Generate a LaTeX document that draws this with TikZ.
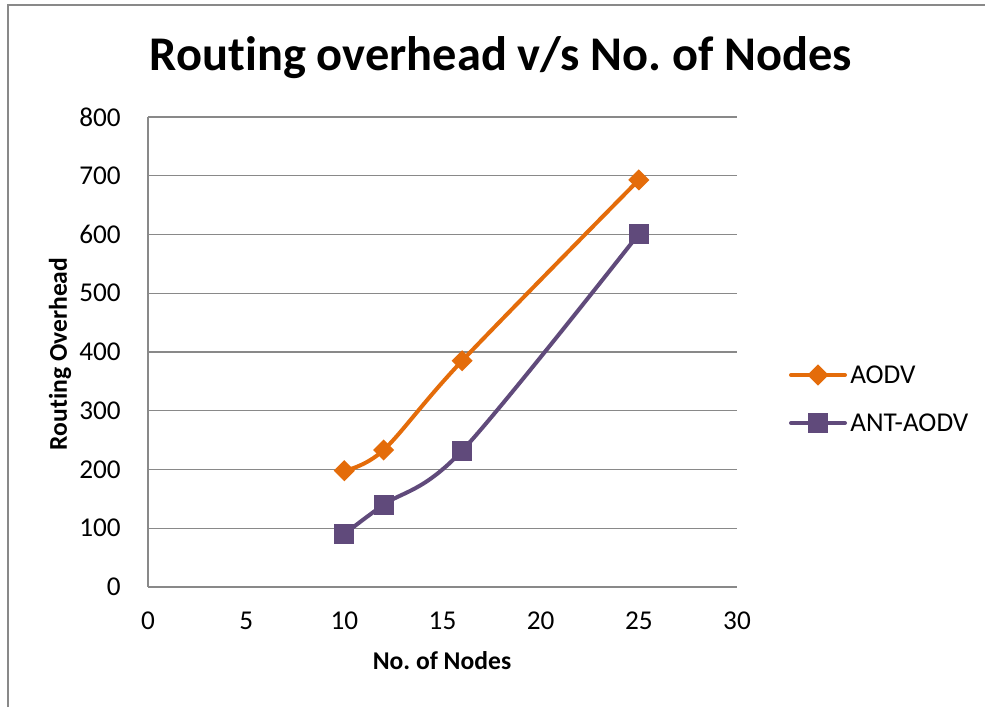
\documentclass[tikz,border=0pt]{standalone}
\usepackage{fontspec}
\usetikzlibrary{shapes.geometric}
\setmainfont[Ligatures=NoCommon]{Carlito}
\frenchspacing
\definecolor{aodv}{HTML}{E46C0A}
\definecolor{antaodv}{HTML}{604A7B}
\definecolor{gridgray}{HTML}{898989}
\begin{document}
\begin{tikzpicture}[x=0.75pt,y=0.75pt,
  gridline/.style={draw=gridgray,line width=1.1pt},
  ticklab/.style={font=\fontsize{20.4}{24}\selectfont,inner sep=0pt},
  axtitle/.style={font=\fontsize{19.2}{22}\selectfont\bfseries,inner sep=0pt},
  aodvline/.style={draw=aodv,line width=3pt,line cap=round,line join=round},
  antline/.style={draw=antaodv,line width=3pt,line cap=round,line join=round},
  dmark/.style={fill=aodv,draw=none,diamond,minimum size=16pt,inner sep=0pt},
  smark/.style={fill=antaodv,draw=none,rectangle,minimum size=15pt,inner sep=0pt}]
% canvas: pixel coordinates, origin bottom-left
\useasboundingbox (0,0) rectangle (985,707);
\fill[white] (0,0) rectangle (985,707);
% outer frame (left and top edges)
\draw[draw=gridgray,line width=1.5pt] (8,0) -- (8,702) -- (985,702);
% title
\node[font=\fontsize{36.3}{44}\selectfont\bfseries,inner sep=0pt] (title) at (501,649) {Routing overhead v/s No. of Nodes};
% plot area: x 0..30 -> 148..737, y 0..800 -> 120..590
\foreach \v in {0,100,...,800}{
  \draw[gridline] (148,{120+\v*0.5875}) -- (737,{120+\v*0.5875});
  \node[ticklab,anchor=east] (yl\v) at (121,{120+\v*0.5875}) {\v};
}
\draw[gridline] (148,120) -- (148,590);
\foreach \v in {0,5,...,30}{
  \node[ticklab] (xl\v) at ({148+\v*19.633},86) {\v};
}
\node[axtitle] (xtitle) at (442,46) {No. of Nodes};
\node[axtitle,rotate=90] (ytitle) at (60,353) {Routing Overhead};
% data series
\draw[aodvline] plot[smooth,tension=0.55] coordinates
  {(344.3,236.3) (383.6,257.0) (462.1,346.2) (638.8,527.1)};
\draw[antline] plot[smooth,tension=0.55] coordinates
  {(344.3,172.9) (383.6,202.3) (462.1,256.3) (638.8,473.1)};
\foreach \px/\py [count=\i] in {344.3/236.3,383.6/257.0,462.1/346.2,638.8/527.1}
  \node[dmark] (a\i) at (\px,\py) {};
\foreach \px/\py [count=\i] in {344.3/172.9,383.6/202.3,462.1/256.3,638.8/473.1}
  \node[smark] (b\i) at (\px,\py) {};
% legend
\coordinate (la1) at (791,332);
\coordinate (la2) at (845,332);
\draw[aodvline] (la1) -- (la2);
\node[dmark] (lad) at (818,332) {};
\node[ticklab,anchor=west] (lat) at (850,332) {AODV};
\coordinate (lb1) at (791,284);
\coordinate (lb2) at (845,284);
\draw[antline] (lb1) -- (lb2);
\node[smark] (lbs) at (818,284) {};
\node[ticklab,anchor=west] (lbt) at (850,284) {ANT-AODV};
\end{tikzpicture}
\end{document}
